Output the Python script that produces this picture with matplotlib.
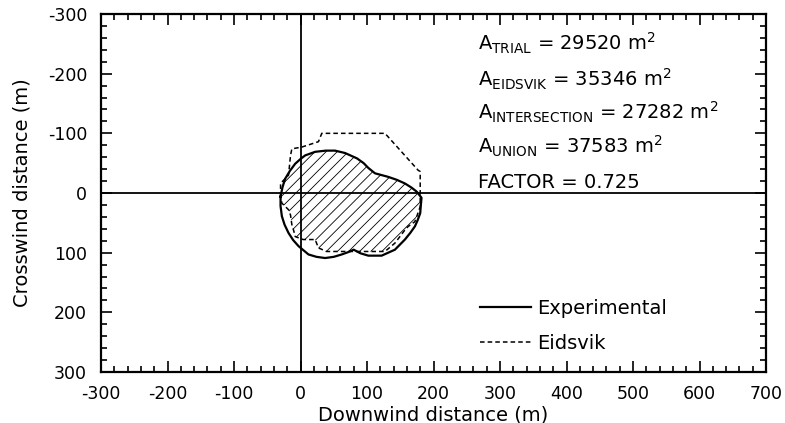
import matplotlib.pyplot as plt
from matplotlib.patches import Polygon
from matplotlib.ticker import MultipleLocator

plt.rcParams['font.family'] = ['DejaVu Sans']
plt.rcParams['axes.unicode_minus'] = False
plt.rcParams['hatch.linewidth'] = 0.6
plt.rcParams['hatch.color'] = 'black'

# experimental plume outline (downwind x, crosswind y), metres
exp_x = [-30, -27, -23, -16, -8, 0, 7, 22, 38, 52, 67, 85, 95, 102, 112,
         132, 145, 157, 167, 175, 182, 181, 180, 176, 172, 165, 157, 142,
         122, 102, 90, 80, 72, 62, 50, 37, 24, 12, -3, -11, -18, -24, -28, -30]
exp_y = [6, -10, -24, -37, -49, -57, -63, -69, -71, -71, -67, -58, -50, -42, -33,
         -27, -22, -16, -9, -2, 8, 20, 34, 46, 56, 67, 78, 95,
         105, 105, 101, 95, 99, 103, 107, 109, 107, 103, 89, 79, 67, 53, 39, 22]

# Eidsvik model outline
eid_x = [-30, -30, -18, -15, -13, 2, 27, 32, 127, 177, 180, 180, 180, 172,
         162, 157, 142, 127, 39, 27, 22, 4, -8, -10, -13, -15, -18, -28, -30]
eid_y = [6, -16, -30, -63, -74, -77, -86, -100, -100, -38, -36, 12, 23, 48,
         56, 62, 84, 98, 98, 92, 78, 78, 73, 64, 53, 37, 28, 17, 6]

area_lines = [r'A$_{\mathrm{TRIAL}}$ = 29520 m$^{2}$',
              r'A$_{\mathrm{EIDSVIK}}$ = 35346 m$^{2}$',
              r'A$_{\mathrm{INTERSECTION}}$ = 27282 m$^{2}$',
              r'A$_{\mathrm{UNION}}$ = 37583 m$^{2}$',
              'FACTOR = 0.725']
area_y = [-238, -179, -124, -67, -8]

fig = plt.figure(figsize=(7.85, 4.23), dpi=100)
ax = fig.add_axes([101 / 785, 1 - 372 / 423, 665 / 785, 358 / 423])

ax.axhline(0, color='black', lw=1.3, zorder=1)
ax.axvline(0, color='black', lw=1.3, zorder=1)

# hatched intersection: experimental area clipped to Eidsvik outline
clip = Polygon(list(zip(eid_x, eid_y)), closed=True, transform=ax.transData,
               facecolor='none', edgecolor='none')
ax.add_patch(clip)
hatched = ax.fill(exp_x, exp_y, facecolor='none', edgecolor='black',
                  hatch='///', lw=0)[0]
hatched.set_clip_path(clip)

ax.plot(exp_x + [exp_x[0]], exp_y + [exp_y[0]], color='black', lw=1.6,
        label='Experimental')
ax.plot(eid_x + [eid_x[0]], eid_y + [eid_y[0]], color='black', lw=1.1,
        linestyle=(0, (3, 2)), label='Eidsvik')

for txt, yy in zip(area_lines, area_y):
    ax.text(267, yy, txt, fontsize=14, va='baseline', ha='left')

ax.legend(loc='upper left', bbox_to_anchor=(0.570, 0.205), frameon=False,
          fontsize=14, handlelength=2.6, handletextpad=0.35, labelspacing=0.85,
          borderpad=0, borderaxespad=0)

ax.set_xlim(-300, 700)
ax.set_ylim(300, -300)
ax.xaxis.set_major_locator(MultipleLocator(100))
ax.xaxis.set_minor_locator(MultipleLocator(20))
ax.yaxis.set_major_locator(MultipleLocator(100))
ax.yaxis.set_minor_locator(MultipleLocator(20))

ax.tick_params(which='both', direction='in', top=True, right=True,
               labelsize=12.5, width=1.2)
ax.tick_params(which='major', length=8)
ax.tick_params(which='minor', length=4)
ax.tick_params(axis='y', pad=10)
ax.tick_params(axis='x', pad=9)
for sp in ax.spines.values():
    sp.set_linewidth(1.6)

ax.set_xlabel('Downwind distance (m)', fontsize=14, labelpad=2)
ax.set_ylabel('Crosswind distance (m)', fontsize=14, labelpad=12)

fig.savefig('out.png', dpi=100)
